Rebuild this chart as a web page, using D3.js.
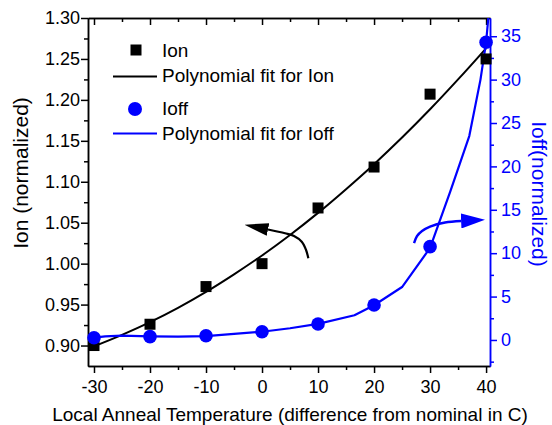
<!DOCTYPE html>
<html>
<head>
<meta charset="utf-8">
<script src="https://cdn.jsdelivr.net/npm/d3@7"></script>
<style>
body { margin: 0; background: #fff; }
text { font-family: "Liberation Sans", Arial, sans-serif; }
</style>
</head>
<body>
<svg id="chart" width="552" height="425"></svg>
<script>
'use strict';

// measured points
var temps = [-30, -20, -10, 0, 10, 20, 30, 40];
var ionVals = [0.900, 0.926, 0.972, 1.000, 1.068, 1.118, 1.207, 1.250];
var ioffVals = [0.26, 0.38, 0.49, 0.95, 1.84, 4.03, 10.75, 34.3];

// fit curves
var ionFitX = [-30, -25, -20, -15, -10, -5, 0, 5, 10, 15, 20, 25, 30, 35, 40];
var ionFitY = [0.899, 0.913, 0.9285, 0.946, 0.9655, 0.987, 1.010, 1.035, 1.062, 1.091, 1.1215, 1.154, 1.1885, 1.225, 1.263];
var ioffFitX = [-30, -28, -25, -20, -15, -10, -5, 0, 5, 10, 16.5, 20, 25, 30, 33.6, 37, 39, 40, 40.4];
var ioffFitY = [0.26, 0.42, 0.5, 0.42, 0.38, 0.45, 0.7, 0.95, 1.35, 1.85, 2.85, 4.0, 6.1, 10.6, 17.1, 23.5, 30, 34.3, 37.1];

// tick labels
var xTicks = [-30, -20, -10, 0, 10, 20, 30, 40];
var xMinor = [-25, -15, -5, 5, 15, 25, 35];
var ionTicks = [0.90, 0.95, 1.00, 1.05, 1.10, 1.15, 1.20, 1.25, 1.30];
var ionMinor = [0.925, 0.975, 1.025, 1.075, 1.125, 1.175, 1.225, 1.275];
var ioffTicks = [0, 5, 10, 15, 20, 25, 30, 35];
var ioffMinor = [-2.5, 2.5, 7.5, 12.5, 17.5, 22.5, 27.5, 32.5];

// annotation arrows (data units)
var ionArrowX = [8.27, 7.86, 7.09, 5.71, 4.11, 1.07];
var ionArrowY = [1.0065, 1.0167, 1.0268, 1.0338, 1.0371, 1.0417];
var ioffArrowX = [27.14, 27.68, 28.57, 30.0, 32.68, 35.54];
var ioffArrowY = [11.17, 11.98, 12.56, 13.07, 13.54, 13.71];

var BLUE = '#0000ff';
var pL = 88, pR = 490, pT = 18, pB = 366;

var svg = d3.select('#chart');

var x = d3.scaleLinear().domain([-31.07, 40.7]).range([pL, pR]);
var yL = d3.scaleLinear().domain([0.875, 1.30]).range([pB, pT]);
var yR = d3.scaleLinear().domain([-3.0, 37.1]).range([pB, pT]);

var defs = svg.append('defs');
defs.append('clipPath').attr('id', 'plot')
    .append('rect')
    .attr('x', pL).attr('y', pT)
    .attr('width', pR - pL).attr('height', pB - pT);

function styleAxis(g, color, size) {
    g.select('.domain').attr('stroke', color).attr('stroke-width', 1.5);
    g.selectAll('.tick line').attr('stroke', color).attr('stroke-width', 1.5);
    g.selectAll('.tick text').attr('fill', color).style('font-size', size + 'px')
        .style('font-family', '"Liberation Sans", Arial, sans-serif');
}

/** bottom axis */
var gx = svg.append('g').attr('transform', 'translate(0,' + pB + ')')
    .call(d3.axisBottom(x).tickValues(xTicks).tickSize(7).tickSizeOuter(0).tickPadding(7)
        .tickFormat(function(d) { return String(d); }));
styleAxis(gx, '#000', 18);
var gx2 = svg.append('g').attr('transform', 'translate(0,' + pB + ')')
    .call(d3.axisBottom(x).tickValues(xMinor).tickSize(4).tickSizeOuter(0).tickFormat(''));
styleAxis(gx2, '#000', 18);

/** top axis, ticks inside */
var gt = svg.append('g').attr('transform', 'translate(0,' + pT + ')')
    .call(d3.axisBottom(x).tickValues(xTicks).tickSize(7).tickSizeOuter(0).tickFormat(''));
styleAxis(gt, '#000', 18);
var gt2 = svg.append('g').attr('transform', 'translate(0,' + pT + ')')
    .call(d3.axisBottom(x).tickValues(xMinor).tickSize(4).tickSizeOuter(0).tickFormat(''));
styleAxis(gt2, '#000', 18);

/** left axis */
var gl = svg.append('g').attr('transform', 'translate(' + pL + ',0)')
    .call(d3.axisLeft(yL).tickValues(ionTicks).tickSize(7).tickSizeOuter(0).tickPadding(1)
        .tickFormat(d3.format('.2f')));
styleAxis(gl, '#000', 18);
var gl2 = svg.append('g').attr('transform', 'translate(' + pL + ',0)')
    .call(d3.axisLeft(yL).tickValues(ionMinor).tickSize(4).tickSizeOuter(0).tickFormat(''));
styleAxis(gl2, '#000', 18);

/** right axis */
var gr = svg.append('g').attr('transform', 'translate(' + pR + ',0)')
    .call(d3.axisRight(yR).tickValues(ioffTicks).tickSize(7).tickSizeOuter(0).tickPadding(4)
        .tickFormat(function(d) { return String(d); }));
styleAxis(gr, BLUE, 18);
var gr2 = svg.append('g').attr('transform', 'translate(' + pR + ',0)')
    .call(d3.axisRight(yR).tickValues(ioffMinor).tickSize(4).tickSizeOuter(0).tickFormat(''));
styleAxis(gr2, BLUE, 18);

/** axis titles */
svg.append('text')
    .attr('x', (pL + pR) / 2 + 1).attr('y', 421)
    .attr('text-anchor', 'middle')
    .style('font-size', '19px')
    .text('Local Anneal Temperature (difference from nominal in C)');

svg.append('text')
    .attr('transform', 'translate(28,173) rotate(-90)')
    .attr('text-anchor', 'middle')
    .style('font-size', '21px')
    .text('Ion (normalized)');

svg.append('text')
    .attr('transform', 'translate(532,194) rotate(90)')
    .attr('text-anchor', 'middle')
    .attr('fill', BLUE)
    .style('font-size', '21px')
    .text('Ioff(normalized)');

/** fit lines */
var plot = svg.append('g').attr('clip-path', 'url(#plot)');

var lineL = d3.line()
    .x(function(d) { return x(d[0]); })
    .y(function(d) { return yL(d[1]); })
    .curve(d3.curveMonotoneX);
var lineR = d3.line()
    .x(function(d) { return x(d[0]); })
    .y(function(d) { return yR(d[1]); });

plot.append('path')
    .datum(d3.zip(ionFitX, ionFitY))
    .attr('d', lineL)
    .attr('fill', 'none').attr('stroke', '#000').attr('stroke-width', 2);

var sq = 11;
svg.selectAll('rect.ion')
    .data(d3.zip(temps, ionVals))
    .enter()
    .append('rect')
    .attr('class', 'ion')
    .attr('x', function(d) { return x(d[0]) - sq / 2; })
    .attr('y', function(d) { return yL(d[1]) - sq / 2; })
    .attr('width', sq).attr('height', sq)
    .attr('fill', '#000');

plot.append('path')
    .datum(d3.zip(ioffFitX, ioffFitY))
    .attr('d', lineR)
    .attr('fill', 'none').attr('stroke', BLUE).attr('stroke-width', 2.2)
    .attr('stroke-linejoin', 'round');

svg.selectAll('circle.ioff')
    .data(d3.zip(temps, ioffVals))
    .enter()
    .append('circle')
    .attr('class', 'ioff')
    .attr('cx', function(d) { return x(d[0]); })
    .attr('cy', function(d) { return yR(d[1]); })
    .attr('r', 6.8)
    .attr('fill', BLUE);

/** arrows */
[['headK', '#000', 13], ['headB', BLUE, 15]].forEach(function(m) {
    defs.append('marker')
        .attr('id', m[0])
        .attr('markerUnits', 'userSpaceOnUse')
        .attr('viewBox', '0 0 24 ' + m[2])
        .attr('refX', 0).attr('refY', m[2] / 2)
        .attr('markerWidth', 24).attr('markerHeight', m[2])
        .attr('orient', 'auto')
        .append('path')
        .attr('d', 'M0,0L24,' + (m[2] / 2) + 'L0,' + m[2] + 'Z')
        .attr('fill', m[1]);
});

var arcL = d3.line()
    .x(function(d) { return x(d[0]); })
    .y(function(d) { return yL(d[1]); })
    .curve(d3.curveCatmullRom);
var arcR = d3.line()
    .x(function(d) { return x(d[0]); })
    .y(function(d) { return yR(d[1]); })
    .curve(d3.curveCatmullRom);

svg.append('path')
    .datum(d3.zip(ionArrowX, ionArrowY))
    .attr('d', arcL)
    .attr('fill', 'none').attr('stroke', '#000').attr('stroke-width', 2.2)
    .attr('marker-end', 'url(#headK)');

svg.append('path')
    .datum(d3.zip(ioffArrowX, ioffArrowY))
    .attr('d', arcR)
    .attr('fill', 'none').attr('stroke', BLUE).attr('stroke-width', 2.4)
    .attr('marker-end', 'url(#headB)');

/** legend */
var lg = svg.append('g').style('font-size', '19px');
lg.append('rect').attr('x', 136 - sq / 2).attr('y', 50 - sq / 2)
    .attr('width', sq).attr('height', sq).attr('fill', '#000');
lg.append('text').attr('x', 162).attr('y', 57).text('Ion');
lg.append('line').attr('x1', 113).attr('x2', 157).attr('y1', 76.5).attr('y2', 76.5)
    .attr('stroke', '#000').attr('stroke-width', 2);
lg.append('text').attr('x', 162).attr('y', 82).text('Polynomial fit for Ion');
lg.append('circle').attr('cx', 135).attr('cy', 109).attr('r', 7).attr('fill', BLUE);
lg.append('text').attr('x', 162).attr('y', 115).text('Ioff');
lg.append('line').attr('x1', 113).attr('x2', 157).attr('y1', 133.5).attr('y2', 133.5)
    .attr('stroke', BLUE).attr('stroke-width', 2.2);
lg.append('text').attr('x', 162).attr('y', 140).text('Polynomial fit for Ioff');
</script>
</body>
</html>
